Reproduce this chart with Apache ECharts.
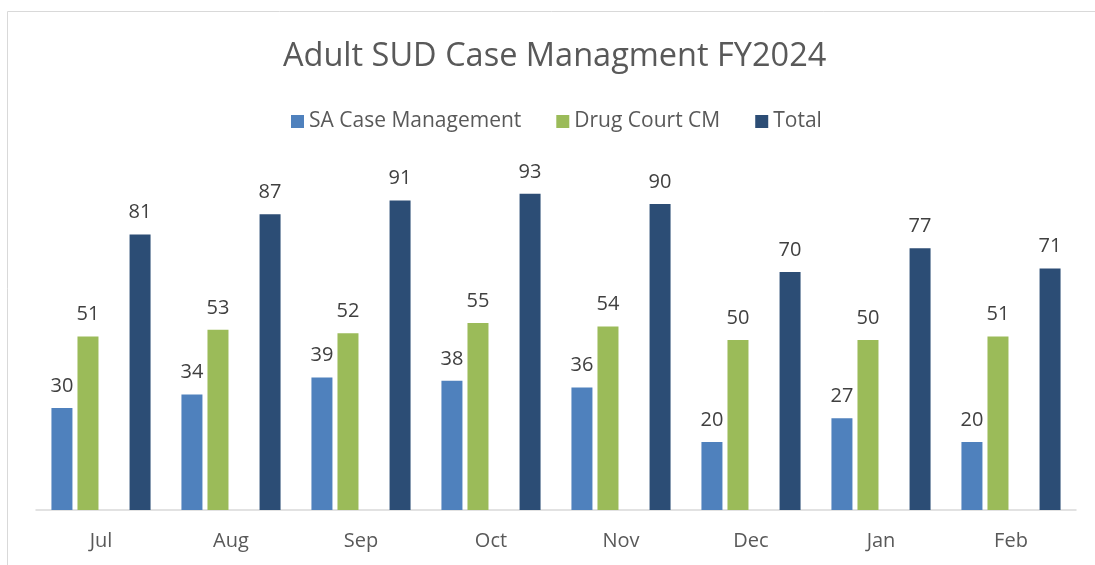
<!DOCTYPE html>
<html>
<head>
<meta charset="utf-8">
<script src="https://cdn.jsdelivr.net/npm/echarts@6/dist/echarts.min.js"></script>
<style>html,body{margin:0;padding:0;background:#fff}#c{width:1095px;height:565px}</style>
</head>
<body>
<div id="c"></div>
<script>
var categories = ['Jul','Aug','Sep','Oct','Nov','Dec','Jan','Feb'];
var saCaseManagement = [30,34,39,38,36,20,27,20];
var drugCourtCM = [51,53,52,55,54,50,50,51];
var total = [81,87,91,93,90,70,77,71];
var emptySlot = [null,null,null,null,null,null,null,null];

var font = '"Open Sans", "Noto Sans", sans-serif';
var chart = echarts.init(document.getElementById('c'));
var labelStyle = {show:true, position:'top', distance:12, color:'#404040', fontSize:20, fontFamily:font};
chart.setOption({
  animation:false,
  graphic:[{type:'rect', shape:{x:7.5,y:11.5,width:1200,height:700}, style:{fill:'none', stroke:'#d9d9d9', lineWidth:1}}],
  title:{text:'Adult SUD Case Managment FY2024', left:278, top:35,
    textStyle:{color:'#595959', fontSize:32.5, fontWeight:'normal', fontFamily:font}},
  legend:{top:106, left:286, itemWidth:13, itemHeight:13, itemGap:35, icon:'rect',
    data:['SA Case Management','Drug Court CM','Total'],
    textStyle:{color:'#595959', fontSize:21, fontFamily:font}},
  grid:{left:36, right:19, top:170, bottom:55},
  xAxis:{type:'category', data:categories,
    axisLine:{lineStyle:{color:'#d9d9d9', width:1.5}}, axisTick:{show:false},
    axisLabel:{color:'#595959', fontSize:20, fontFamily:font, margin:21}},
  yAxis:{type:'value', min:0, max:100, show:false, splitLine:{show:false}},
  series:[
    {name:'SA Case Management', type:'bar', data:saCaseManagement, barWidth:21, barGap:'24%',
      itemStyle:{color:'#4f81bd'}, label:labelStyle},
    {name:'Drug Court CM', type:'bar', data:drugCourtCM, barWidth:21, barGap:'24%',
      itemStyle:{color:'#9bbb59'}, label:labelStyle},
    {name:'', type:'bar', data:emptySlot, barWidth:21, barGap:'24%'},
    {name:'Total', type:'bar', data:total, barWidth:21, barGap:'24%',
      itemStyle:{color:'#2c4d75'}, label:labelStyle}
  ]
});
</script>
</body>
</html>
